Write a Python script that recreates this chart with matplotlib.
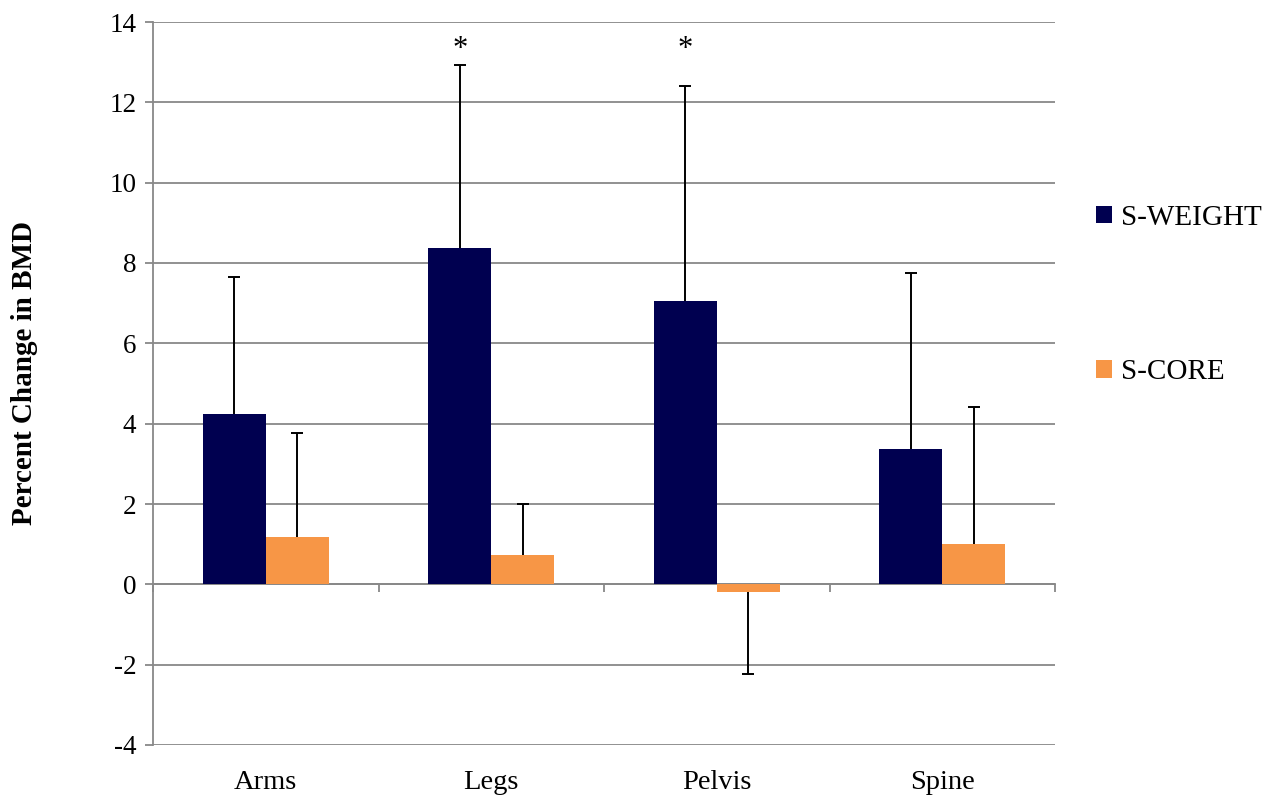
import numpy as np
import matplotlib.pyplot as plt

plt.rcParams['font.family'] = ['Liberation Serif', 'DejaVu Serif']
plt.rcParams['axes.unicode_minus'] = False

regions = ['Arms', 'Legs', 'Pelvis', 'Spine']
weight_mean = [4.24, 8.38, 7.06, 3.36]
weight_err = [3.42, 4.55, 5.35, 4.39]
core_mean = [1.18, 0.73, -0.19, 1.01]
core_err = [2.60, 1.26, 2.05, 3.41]
significant = [False, True, True, False]

navy = '#000050'
orange = '#F79646'
grid_col = '#888888'


def draw_err(ax, xs, mean, err):
    # error bar only on the side away from zero, with a single cap
    ends = [m - e if m < 0 else m + e for m, e in zip(mean, err)]
    ax.vlines(xs, mean, ends, color='black', lw=1.4, zorder=4)
    ax.plot(xs, ends, ls='none', marker='_', ms=9, mew=1.4,
            color='black', zorder=4)
    return ends


fig = plt.figure(figsize=(12.77, 8), dpi=100)
ax = fig.add_axes([153/1277, 55/800, 902/1277, 723/800])

x = np.arange(len(regions))
w = 0.28
ax.bar(x - w/2, weight_mean, w, color=navy, label='S-WEIGHT', zorder=3)
ax.bar(x + w/2, core_mean, w, color=orange, label='S-CORE', zorder=3)
w_ends = draw_err(ax, x - w/2, weight_mean, weight_err)
draw_err(ax, x + w/2, core_mean, core_err)

# significance stars sit on one line above the tallest marked bar
star_y = max(e for e, s in zip(w_ends, significant) if s)
for i, sig in enumerate(significant):
    if sig:
        ax.annotate('*', (x[i] - w/2, star_y),
                    xytext=(0, 1), textcoords='offset points',
                    ha='center', va='bottom', fontsize=22)

ax.set_xlim(-0.5, len(regions) - 0.5)
ax.set_ylim(-4, 14)
ax.set_yticks(np.arange(-4, 15, 2))
ax.yaxis.grid(True, color=grid_col, lw=1.3)
ax.set_axisbelow(True)

for s in ['top', 'right']:
    ax.spines[s].set_visible(False)
ax.spines['left'].set_color(grid_col)
ax.spines['left'].set_linewidth(1.3)
ax.spines['bottom'].set_position(('data', 0))
ax.spines['bottom'].set_color(grid_col)
ax.spines['bottom'].set_linewidth(1.3)

ax.set_xticks(np.arange(-0.5, len(regions), 1))
ax.set_xticklabels([])
ax.tick_params(axis='x', length=6, width=1.3, color=grid_col)
ax.tick_params(axis='y', length=6, width=1.3, color=grid_col,
               labelsize=19.5, pad=6)

for i, name in enumerate(regions):
    ax.annotate(name, (x[i], 0), xycoords=('data', 'axes fraction'),
                xytext=(0, -18), textcoords='offset points',
                ha='center', va='top', fontsize=20.5)

fig.text(25/1277, 1 - 373/800, 'Percent Change in BMD', rotation=90,
         ha='center', va='center', fontsize=21, fontweight='bold')

fig.legend(loc='center left', bbox_to_anchor=(1096/1277, 1 - 295/800),
           frameon=False, fontsize=21, handlelength=0.55, handleheight=0.55,
           handletextpad=0.3, labelspacing=4.4, borderaxespad=0,
           borderpad=0)

fig.savefig('out.png', dpi=100)
